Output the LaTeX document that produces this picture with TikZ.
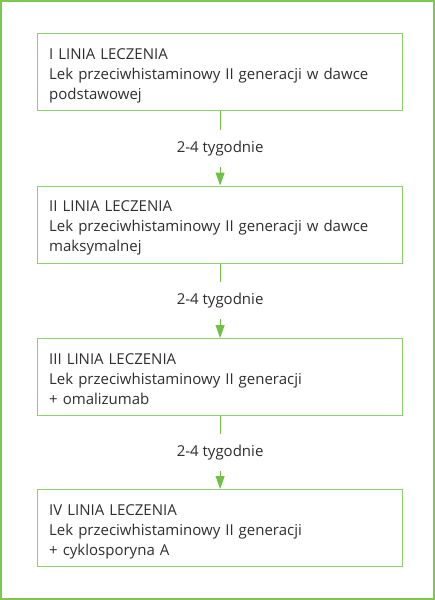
\documentclass[tikz,border=0pt]{standalone}
\usepackage{fontspec}
\setmainfont{Open Sans}
\usetikzlibrary{positioning,arrows.meta}
\definecolor{framegreen}{HTML}{7CC84E}
\definecolor{boxgreen}{HTML}{8ED16A}
\definecolor{arrowgreen}{HTML}{6EC046}
\definecolor{textgray}{HTML}{2E2E2E}

\begin{document}
\begin{tikzpicture}[x=1pt,y=-1pt,
    linebox/.style={draw=boxgreen, line width=1.2pt, anchor=north west,
      minimum width=365pt, minimum height=77pt, inner sep=0pt},
    linetext/.style={anchor=base west, text width=341pt, inner sep=0pt,
      align=left, text=textgray, font=\fontsize{15pt}{20pt}\selectfont},
    weeks/.style={fill=white, inner xsep=2pt, inner ysep=11pt, text=textgray,
      font=\fontsize{15pt}{18pt}\selectfont},
    next/.style={draw=arrowgreen, line width=1pt,
      -{Triangle[length=13pt,width=9pt]}}]
    \useasboundingbox (0,0) rectangle (435,600);
    \draw[framegreen, line width=1.6pt] (0.8,0.8) rectangle (434.2,599.2);

    \node[linebox] (line1) at (37,33) {};
    \node[linetext] (text1) at ([xshift=12pt,yshift=-26pt]line1.north west)
    {I LINIA LECZENIA\\Lek przeciwhistaminowy II generacji w dawce\\podstawowej};
    \node[linebox] (line2) at (37,185.5) {};
    \node[linetext] (text2) at ([xshift=12pt,yshift=-26pt]line2.north west)
    {II LINIA LECZENIA\\Lek przeciwhistaminowy II generacji w dawce\\maksymalnej};
    \node[linebox] (line3) at (37,338) {};
    \node[linetext] (text3) at ([xshift=12pt,yshift=-26pt]line3.north west)
    {III LINIA LECZENIA\\Lek przeciwhistaminowy II generacji\\+ omalizumab};
    \node[linebox] (line4) at (37,489) {};
    \node[linetext] (text4) at ([xshift=12pt,yshift=-26pt]line4.north west)
    {IV LINIA LECZENIA\\Lek przeciwhistaminowy II generacji\\+ cyklosporyna A};

    \draw[next] (line1) -- node[weeks] {2-4 tygodnie} (line2);
    \draw[next] (line2) -- node[weeks] {2-4 tygodnie} (line3);
    \draw[next] (line3) -- node[weeks] {2-4 tygodnie} (line4);
\end{tikzpicture}
\end{document}
